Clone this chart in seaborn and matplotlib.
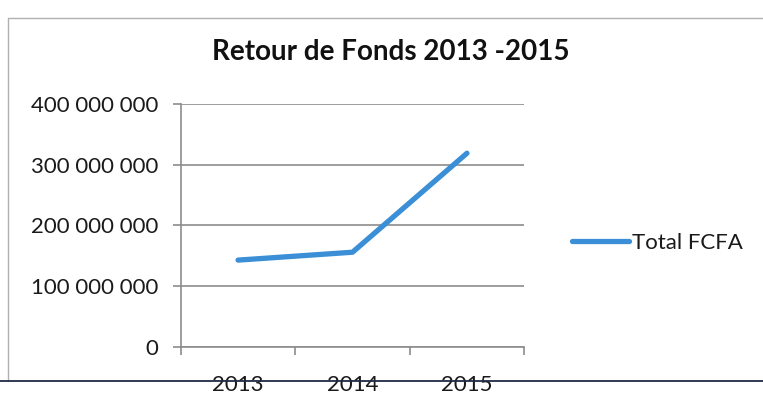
import matplotlib
matplotlib.use("Agg")
import matplotlib.pyplot as plt
import matplotlib.ticker as mticker
import seaborn as sns
import pandas as pd
import numpy as np

years = ["2013", "2014", "2015"]
totals = [143_000_000, 156_000_000, 319_000_000]
series_name = "Total FCFA"
title = "Retour de Fonds 2013 -2015"
yticks = [0, 100_000_000, 200_000_000, 300_000_000, 400_000_000]

sns.set_theme(style="white")
plt.rcParams["font.family"] = ["Lato", "DejaVu Sans"]

df = pd.DataFrame({"Année": years, series_name: totals})

fig = plt.figure(figsize=(7.63, 3.97), dpi=100)
ax = fig.add_axes([0.237, 0.126, 0.450, 0.612])

sns.lineplot(data=df, x="Année", y=series_name, ax=ax, color="#3a8fd6",
             linewidth=3.8, label=series_name, sort=False)

ax.set_xlim(-0.5, 2.5)
ax.set_ylim(0, 400_000_000)
ax.set_yticks(yticks)
ax.yaxis.set_major_formatter(mticker.FuncFormatter(
    lambda v, p: f"{int(v):,}".replace(",", " ")))
ax.set_xlabel("")
ax.set_ylabel("")
ax.grid(axis="y", color="#8c8c8c", linewidth=1.2)
ax.set_axisbelow(True)

for s in ["top", "right"]:
    ax.spines[s].set_visible(False)
for s in ["left", "bottom"]:
    ax.spines[s].set_color("#8c8c8c")
    ax.spines[s].set_linewidth(1.2)

ax.xaxis.set_minor_locator(mticker.FixedLocator([-0.5, 0.5, 1.5, 2.5]))
ax.tick_params(axis="x", which="major", length=0, pad=20, labelsize=16,
               labelcolor="#1a1a1a")
ax.tick_params(axis="x", which="minor", bottom=True, length=6,
               color="#8c8c8c", width=1.2, direction="out")
ax.tick_params(axis="y", left=True, length=6, color="#8c8c8c", width=1.2,
               labelsize=16, labelcolor="#1a1a1a", pad=10)

fig.text(0.512, 0.87, title, ha="center", va="center", fontsize=20,
         fontweight="bold", color="#111111")

ax.legend(loc="center left", bbox_to_anchor=(1.08, 0.43), frameon=False,
          fontsize=16, handlelength=2.6, handletextpad=0.1,
          labelcolor="#1a1a1a")

# chart frame and bottom rule
fig.add_artist(plt.Line2D([0.011, 0.011], [0.04, 0.955], color="#b0b0b0",
                          linewidth=1, transform=fig.transFigure))
fig.add_artist(plt.Line2D([0.011, 1.0], [0.955, 0.955], color="#b0b0b0",
                          linewidth=1, transform=fig.transFigure))
fig.add_artist(plt.Line2D([0.0, 1.0], [0.04, 0.04], color="#1f2a44",
                          linewidth=1.3, transform=fig.transFigure))

fig.savefig("out.png", dpi=100)
